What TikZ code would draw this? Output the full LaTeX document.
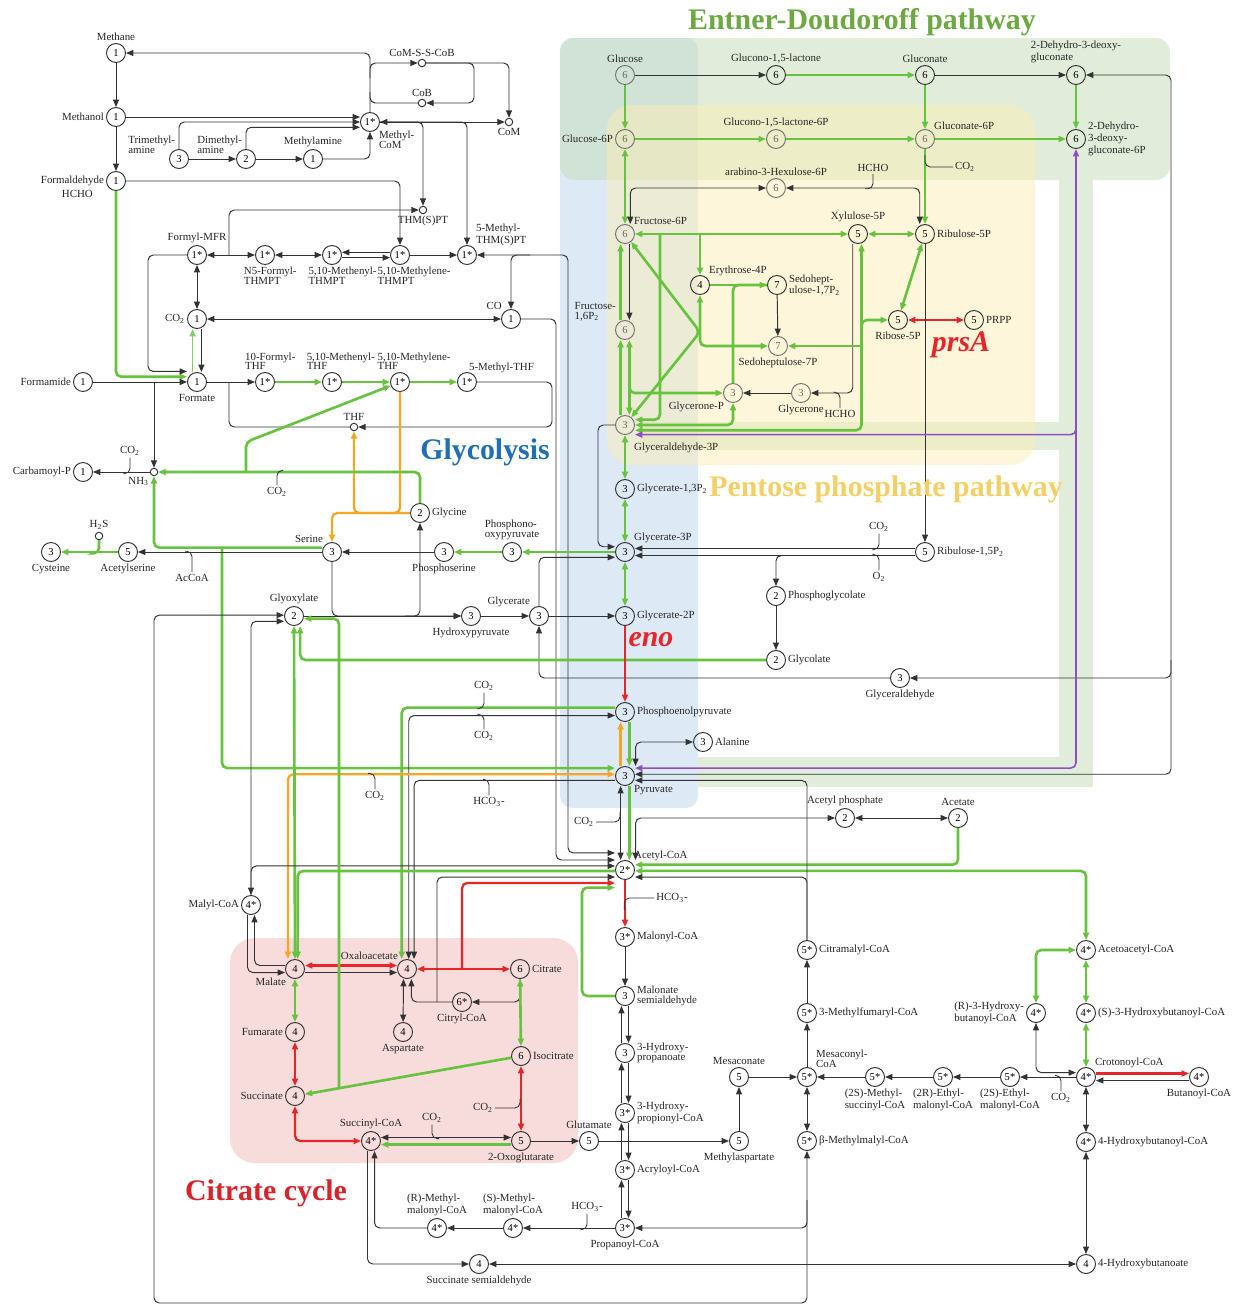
\documentclass[tikz,border=0pt]{standalone}
\usepackage{fontspec}
\setmainfont{Liberation Serif}
\usetikzlibrary{arrows.meta}

\definecolor{pgreen}{HTML}{66C23F}
\definecolor{pred}{HTML}{E8262A}
\definecolor{porange}{HTML}{F5A623}
\definecolor{ppurple}{HTML}{8E4EC6}
\definecolor{tgreen}{HTML}{6EA843}
\definecolor{tblue}{HTML}{1F6EB6}
\definecolor{tyellow}{HTML}{F3D067}
\definecolor{tred}{HTML}{D8232A}
\definecolor{bggreen}{HTML}{C8DFBC}
\definecolor{bgblue}{HTML}{BDD3EE}
\definecolor{bgyellow}{HTML}{FBEEB5}
\definecolor{bgpink}{HTML}{F3BDBD}

\newcommand\cotwo{CO\textsubscript{2}}

\begin{document}
\begin{tikzpicture}[x=0.02cm, y=-0.02cm,
    >={Triangle[length=4.2pt,width=3.4pt]},
    met/.style={circle, draw=black!80, line width=0.55pt, minimum size=0.38cm, inner sep=0pt, font=\fontsize{6}{6}\selectfont},
    dim/.style={draw=black!55, text=black!60, every label/.append style={text=black!60}},
    cof/.style={circle, draw=black!80, line width=0.55pt, fill=white, minimum size=0.15cm, inner sep=0pt},
    lbl/.style={font=\fontsize{6.2}{5.6}\selectfont, inner sep=1pt, text=black!85},
    ln/.style={draw=black!80, line width=0.55pt, rounded corners=3pt},
    gln/.style={draw=pgreen, line width=1.5pt, rounded corners=3pt},
    gthin/.style={draw=pgreen!80, line width=0.8pt},
    rln/.style={draw=pred, line width=1.3pt, rounded corners=3pt},
    oln/.style={draw=porange, line width=1.3pt, rounded corners=3pt},
    pln/.style={draw=ppurple, line width=0.9pt, rounded corners=3pt},
    hk/.style={draw=black!80, line width=0.5pt, rounded corners=3pt},
    ttl/.style={font=\fontsize{17}{17}\selectfont\bfseries}
]
\useasboundingbox (0,0) rectangle (1249,1309);

% pathway areas
\fill[bgblue, opacity=0.5, rounded corners=7pt] (560,38) rectangle (698,808);
\fill[bggreen, opacity=0.55, rounded corners=8pt] (560,38) rectangle (1170,180);
\fill[bggreen, opacity=0.55] (1059,180) rectangle (1093,787);
\fill[bggreen, opacity=0.55] (698,757) rectangle (1059,787);
\fill[bggreen, opacity=0.55] (640,422) rectangle (1059,450);
\fill[bgyellow, opacity=0.5, rounded corners=14pt] (607,105) rectangle (1035,465);
\fill[bgpink, opacity=0.55, rounded corners=14pt] (230,938) rectangle (578,1163);

% C1 metabolism
\node[met, label={[lbl]above:Methane}] (methane) at (116,53) {1};
\node[met, label={[lbl]left:Methanol}] (methanol) at (116,117) {1};
\node[met, label={[lbl]left:Formaldehyde}, label={[lbl,xshift=-8pt]below left:HCHO}] (hcho) at (116,181) {1};
\node[met, label={[lbl,align=left]below right:Methyl-\\CoM}] (mcom) at (370,122) {1*};
\node[met, label={[lbl,align=left,xshift=3pt,yshift=-2pt]above left:Trimethyl-\\amine}] (tma) at (179,159) {3};
\node[met, label={[lbl,align=left,xshift=3pt,yshift=-2pt]above left:Dimethyl-\\amine}] (dma) at (246,159) {2};
\node[met, label={[lbl]above:Methylamine}] (mamine) at (313,159) {1};
\node[cof, label={[lbl]above:CoM-S-S-CoB}] (comss) at (422,63) {};
\node[cof, label={[lbl]above:CoB}] (cob) at (422,103) {};
\node[cof, label={[lbl]below:CoM}] (com) at (509,122) {};
\node[cof, label={[lbl]below:THM(S)PT}] (thmspt) at (423,210) {};
\node[met, label={[lbl,align=left]above right:5-Methyl-\\THM(S)PT}] (mthmspt) at (467,255) {1*};
\node[met, label={[lbl]above:Formyl-MFR}] (fmfr) at (197,255) {1*};
\node[met, label={[lbl,align=left,xshift=3pt]below:N5-Formyl-\\THMPT}] (nfthmpt) at (265,255) {1*};
\node[met, label={[lbl,align=left,xshift=6pt]below:5,10-Methenyl-\\THMPT}] (menthmpt) at (332,255) {1*};
\node[met, label={[lbl,align=left,xshift=8pt]below:5,10-Methylene-\\THMPT}] (mlethmpt) at (400,255) {1*};
\node[met, label={[lbl]left:\cotwo}] (co2a) at (197,319) {1};
\node[met, label={[lbl]above left:CO}] (co) at (511,319) {1};
\node[met, label={[lbl]left:Formamide}] (formamide) at (83,382) {1};
\node[met, label={[lbl]below:Formate}] (formate) at (197,382) {1};
\node[met, label={[lbl,align=left,xshift=3pt]above:10-Formyl-\\THF}] (fthf) at (265,382) {1*};
\node[met, label={[lbl,align=left,xshift=5pt]above:5,10-Methenyl-\\THF}] (menthf) at (332,382) {1*};
\node[met, label={[lbl,align=left,xshift=8pt]above:5,10-Methylene-\\THF}] (mlethf) at (400,382) {1*};
\node[met, label={[lbl,xshift=-4pt]above right:5-Methyl-THF}] (mthf) at (467,382) {1*};
\node[cof, label={[lbl]above:THF}] (thf) at (354,427) {};
\node[cof, label={[lbl]below left:NH\textsubscript{3}}] (nh3) at (154,472) {};
\node[met, label={[lbl]left:Carbamoyl-P}] (carbp) at (83,472) {1};

% serine and glycine
\node[met, label={[lbl]right:Glycine}] (glycine) at (420,513) {2};
\node[met, label={[lbl]above left:Serine}] (serine) at (332,552) {3};
\node[met, label={[lbl]below:Acetylserine}] (acser) at (128,552) {5};
\node[met, label={[lbl]below:Cysteine}] (cys) at (51,552) {3};
\node[cof, label={[lbl]above:H\textsubscript{2}S}] (h2s) at (99,536) {};
\node[met, label={[lbl]below:Phosphoserine}] (pser) at (444,552) {3};
\node[met, label={[lbl,align=left]above:Phosphono-\\oxypyruvate}] (phpyr) at (512,552) {3};
\node[met, label={[lbl]above:Glyoxylate}] (glyox) at (294,616) {2};
\node[met, label={[lbl]below:Hydroxypyruvate}] (hpyr) at (471,616) {3};
\node[met, label={[lbl]above left:Glycerate}] (glycerate) at (539,616) {3};
\node[met, label={[lbl]right:Phosphoglycolate}] (pgcl) at (776,596) {2};
\node[met, label={[lbl]right:Glycolate}] (glycolate) at (776,660) {2};
\node[met, label={[lbl]below:Glyceraldehyde}] (glald) at (900,678) {3};

% glycolysis column
\node[met, dim, label={[lbl]above:Glucose}] (glc) at (625,75) {6};
\node[met, dim, label={[lbl]left:Glucose-6P}] (glc6p) at (625,139) {6};
\node[met, dim, label={[lbl]above right:Fructose-6P}] (f6p) at (625,234) {6};
\node[met, dim, label={[lbl,align=left]above left:Fructose-\\1,6P\textsubscript{2}}] (fbp) at (625,330) {6};
\node[met, dim, label={[lbl,yshift=-5pt]below right:Glyceraldehyde-3P}] (gap) at (625,425) {3};
\node[met, label={[lbl]right:Glycerate-1,3P\textsubscript{2}}] (bpg) at (625,489) {3};
\node[met, label={[lbl]above right:Glycerate-3P}] (pg3) at (625,552) {3};
\node[met, label={[lbl]right:Glycerate-2P}] (pg2) at (625,616) {3};
\node[met, label={[lbl]right:Phosphoenolpyruvate}] (pep) at (625,712) {3};
\node[met, label={[lbl]right:Alanine}] (ala) at (703,742) {3};
\node[met, label={[lbl]below right:Pyruvate}] (pyr) at (625,776) {3};
\node[met, label={[lbl]above right:Acetyl-CoA}] (accoa) at (625,870) {2*};
\node[met, label={[lbl]right:Malonyl-CoA}] (malcoa) at (625,937) {3*};
\node[met, label={[lbl,align=left]right:Malonate\\semialdehyde}] (msa) at (625,996) {3};
\node[met, label={[lbl,align=left]right:3-Hydroxy-\\propanoate}] (hp) at (625,1053) {3};
\node[met, label={[lbl,align=left]right:3-Hydroxy-\\propionyl-CoA}] (hpcoa) at (625,1113) {3*};
\node[met, label={[lbl]right:Acryloyl-CoA}] (acrcoa) at (625,1170) {3*};
\node[met, label={[lbl]below:Propanoyl-CoA}] (propcoa) at (625,1228) {3*};

% Entner-Doudoroff and pentose phosphate
\node[met, label={[lbl]above:Glucono-1,5-lactone}] (glcl) at (776,75) {6};
\node[met, label={[lbl]above:Gluconate}] (glcn) at (925,75) {6};
\node[met, label={[lbl,align=left]above:2-Dehydro-3-deoxy-\\gluconate}] (kdg) at (1076,75) {6};
\node[met, dim, label={[lbl]above:Glucono-1,5-lactone-6P}] (glcl6p) at (776,139) {6};
\node[met, dim, label={[lbl]above right:Gluconate-6P}] (glcn6p) at (925,139) {6};
\node[met, label={[lbl,align=left]right:2-Dehydro-\\3-deoxy-\\gluconate-6P}] (kdpg) at (1076,139) {6};
\node[met, dim, label={[lbl]above:arabino-3-Hexulose-6P}] (hex6p) at (776,188) {6};
\node[met, label={[lbl]above right:Erythrose-4P}] (e4p) at (700,285) {4};
\node[met, label={[lbl,align=left]right:Sedohept-\\ulose-1,7P\textsubscript{2}}] (s17bp) at (777,285) {7};
\node[met, label={[lbl]above:Xylulose-5P}] (x5p) at (858,234) {5};
\node[met, label={[lbl]right:Ribulose-5P}] (ru5p) at (925,234) {5};
\node[met, label={[lbl]below:Ribose-5P}] (r5p) at (898,320) {5};
\node[met, label={[lbl]right:PRPP}] (prpp) at (974,320) {5};
\node[met, dim, label={[lbl]below:Sedoheptulose-7P}] (s7p) at (778,346) {7};
\node[met, dim, label={[lbl]below left:Glycerone-P}] (dhap) at (733,393) {3};
\node[met, dim, label={[lbl]below:Glycerone}] (dha) at (801,393) {3};
\node[met, label={[lbl]right:Ribulose-1,5P\textsubscript{2}}] (rubp) at (925,552) {5};

% lower right
\node[met, label={[lbl]above:Acetyl phosphate}] (acp) at (845,818) {2};
\node[met, label={[lbl]above:Acetate}] (acetate) at (958,818) {2};
\node[met, label={[lbl]right:Acetoacetyl-CoA}] (aacoa) at (1086,950) {4*};
\node[met, label={[lbl,align=left]left:(R)-3-Hydroxy-\\butanoyl-CoA}] (rhbcoa) at (1036,1013) {4*};
\node[met, label={[lbl]right:(S)-3-Hydroxybutanoyl-CoA}] (shbcoa) at (1086,1013) {4*};
\node[met, label={[lbl]above right:Crotonoyl-CoA}] (crot) at (1086,1077) {4*};
\node[met, label={[lbl]below:Butanoyl-CoA}] (butcoa) at (1199,1077) {4*};
\node[met, label={[lbl]right:4-Hydroxybutanoyl-CoA}] (hbcoa) at (1086,1142) {4*};
\node[met, label={[lbl]right:4-Hydroxybutanoate}] (hbut) at (1086,1264) {4};
\node[met, label={[lbl,align=left]below:(2S)-Ethyl-\\malonyl-CoA}] (semcoa) at (1010,1077) {5*};
\node[met, label={[lbl,align=left]below:(2R)-Ethyl-\\malonyl-CoA}] (remcoa) at (943,1077) {5*};
\node[met, label={[lbl,align=left]below:(2S)-Methyl-\\succinyl-CoA}] (mscoa) at (875,1077) {5*};
\node[met, label={[lbl,align=left]above right:Mesaconyl-\\CoA}] (mescoa) at (807,1077) {5*};
\node[met, label={[lbl]right:3-Methylfumaryl-CoA}] (mfcoa) at (807,1013) {5*};
\node[met, label={[lbl]right:Citramalyl-CoA}] (cmcoa) at (807,950) {5*};
\node[met, label={[lbl]right:β-Methylmalyl-CoA}] (bmmcoa) at (807,1141) {5*};
\node[met, label={[lbl]above:Mesaconate}] (mesac) at (739,1077) {5};
\node[met, label={[lbl]below:Methylaspartate}] (measp) at (739,1141) {5};
\node[met, label={[lbl]above:Glutamate}] (glu) at (589,1141) {5};

% citrate cycle
\node[met, label={[lbl]left:Malyl-CoA}] (malylcoa) at (251,905) {4*};
\node[met, label={[lbl]below left:Malate}] (malate) at (295,969) {4};
\node[met, label={[lbl]above left:Oxaloacetate}] (oaa) at (407,969) {4};
\node[met, label={[lbl]right:Citrate}] (citrate) at (520,969) {6};
\node[met, label={[lbl]below:Citryl-CoA}] (citcoa) at (462,1002) {6*};
\node[met, label={[lbl]below:Aspartate}] (asp) at (403,1032) {4};
\node[met, label={[lbl]left:Fumarate}] (fum) at (295,1032) {4};
\node[met, label={[lbl]left:Succinate}] (succ) at (295,1096) {4};
\node[met, label={[lbl]above:Succinyl-CoA}] (succoa) at (371,1141) {4*};
\node[met, label={[lbl]right:Isocitrate}] (icit) at (521,1056) {6};
\node[met, label={[lbl]below:2-Oxoglutarate}] (akg) at (521,1141) {5};
\node[met, label={[lbl,align=left]above:(S)-Methyl-\\malonyl-CoA}] (smmcoa) at (513,1228) {4*};
\node[met, label={[lbl,align=left]above:(R)-Methyl-\\malonyl-CoA}] (rmmcoa) at (437,1228) {4*};
\node[met, label={[lbl]below:Succinate semialdehyde}] (ssa) at (479,1264) {4};

% side compounds
\node[lbl] (co2b) at (130,451) {\cotwo};
\node[lbl] (co2c) at (277,492) {\cotwo};
\node[lbl] (accoal) at (192,578) {AcCoA};
\node[lbl] (co2d) at (965,167) {\cotwo};
\node[lbl] (hchob) at (873,168) {HCHO};
\node[lbl] (hchoc) at (840,414) {HCHO};
\node[lbl] (co2e) at (879,527) {\cotwo};
\node[lbl] (o2) at (879,577) {O\textsubscript{2}};
\node[lbl] (co2g) at (484,686) {\cotwo};
\node[lbl] (co2h) at (484,736) {\cotwo};
\node[lbl] (hco3a) at (489,802) {HCO\textsubscript{3}-};
\node[lbl] (co2i) at (375,796) {\cotwo};
\node[lbl] (co2f) at (584,822) {\cotwo};
\node[lbl] (hco3c) at (672,898) {HCO\textsubscript{3}-};
\node[lbl] (co2j) at (483,1108) {\cotwo};
\node[lbl] (co2k) at (432,1118) {\cotwo};
\node[lbl] (hco3b) at (587,1207) {HCO\textsubscript{3}-};
\node[lbl] (co2l) at (1061,1098) {\cotwo};

% junctions
\coordinate (jcomss) at (370,78);
\coordinate (jcob) at (370,92);
\coordinate (jloop) at (474,80);
\coordinate (jthm) at (229,255);
\coordinate (jfm) at (148,300);
\coordinate (jfa) at (154,382);
\coordinate (jthf) at (229,382);
\coordinate (jmt) at (552,400);
\coordinate (jorg) at (370,513);
\coordinate (jgly1) at (246,472);
\coordinate (jgly2) at (246,442);
\coordinate (jser) at (222,548);
\coordinate (jhp) at (405,616);
\coordinate (jf6) at (700,234);
\coordinate (jf6b) at (660,234);
\coordinate (jtal) at (700,332);
\coordinate (jfbp) at (629.4,360);
\coordinate (jx1) at (861.5,335);
\coordinate (jx2) at (861.5,346);
\coordinate (jrub) at (800,555.5);
\coordinate (jgp) at (598,480);
\coordinate (jk1) at (1171,400);
\coordinate (jkdg) at (1171,660);
\coordinate (jpurp) at (1076,420);
\coordinate (jb1) at (807,1303);
\coordinate (jb2) at (154,1000);
\coordinate (jbm) at (807,1200);
\coordinate (jcit) at (462,969);
\coordinate (jccoa) at (437,1002);
\coordinate (jics) at (339,1088);
\coordinate (jms) at (582,950);
\coordinate (j568) at (568,600);
\coordinate (j556) at (556,600);
\coordinate (jco) at (530,255);

% C1 reactions
\draw[ln,->] (mcom) |- (methane);
\draw[ln,->] (jcomss) |- (comss);
\draw[ln] (jcob) |- (cob);
\draw[ln,->] (comss) -| (jloop) |- (cob);
\draw[ln,->] (comss) -| (com);
\draw[ln,->] (methane) -- (methanol);
\draw[ln,->] (methanol) -- (hcho);
\draw[ln,->] (methanol) -- (methanol -| mcom.west);
\draw[ln,->] (tma) |- (mcom.west);
\draw[ln,->] (tma) -- (dma);
\draw[ln,->] (dma) |- ([yshift=-3pt]mcom.west);
\draw[ln,->] (dma) -- (mamine);
\draw[ln,->] (mamine) -| (mcom);
\draw[ln,->] (mcom) -- (com);
\draw[ln,->] (mcom) -| (thmspt);
\draw[ln,<->] (mthmspt) |- (mcom);
\draw[ln,->] (hcho) -| (mlethmpt);
\draw[gln,->] (hcho) |- ([yshift=3pt]formate.west);
\draw[ln,<->] (fmfr) -- (nfthmpt);
\draw[ln,<->] (nfthmpt) -- (menthmpt);
\draw[ln,<-] ([yshift=1.5pt]menthmpt.east) -- ([yshift=1.5pt]mlethmpt.west);
\draw[ln,->] ([yshift=-1.5pt]menthmpt.east) -- ([yshift=-1.5pt]mlethmpt.west);
\draw[ln,->] (mlethmpt) -- (mthmspt);
\draw[ln,->] (jthm) |- (thmspt);
\draw[ln,<->] (fmfr) -- (co2a);
\draw[ln,<->] (co2a) -- (co);
\draw[ln,->] (fmfr) -| (jfm) |- ([yshift=6pt]formate.west);
\draw[gthin,->] ([xshift=-2.5pt]formate.north) -- ([xshift=-2.5pt]co2a.south);
\draw[ln,->] ([xshift=2.5pt]co2a.south) -- ([xshift=2.5pt]formate.north);
\draw[ln,->] (formamide) -- (formate);
\draw[ln,->] (jfa) -- (nh3);
\draw[ln,->] (formate) -- (fthf);
\draw[ln] (thf) -| (jthf);
\draw[gln,->] (fthf) -- (menthf);
\draw[gln,->] (menthf) -- (mlethf);
\draw[gln,->] (mlethf) -- (mthf);
\draw[ln,->] (mthf) -| (jmt) |- (thf);
\draw[ln,->] (nh3) -- (carbp);
\draw[hk] (co2b.south) |- ++(-5,16);
\draw[ln,<->] (mthmspt) -| (j568) |- ([yshift=9.7pt]accoa.west);
\draw[ln,->] (jco) -| (co);
\draw[ln,->] (co) -| (j556) |- ([yshift=5.7pt]accoa.west);

% serine, glycine, glycerate
\draw[oln,->] (glycine) -| (serine);
\draw[oln] (mlethf) |- (jorg);
\draw[oln,->] (jorg) -| (thf);
\draw[gln,->] (glycine) |- (nh3);
\draw[gln,->] (jgly1) -- (jgly2) -- (mlethf);
\draw[hk] (co2c.north) |- ++(6,-15);
\draw[gln,->] ([yshift=2.5pt]serine.west) -| (nh3);
\draw[gln,->] (jser) |- ([yshift=4.5pt]pyr.west);
\draw[ln,->] (serine) -- (acser);
\draw[hk] (accoal.north) |- ++(-7,-21);
\draw[gln,->] (acser) -- (cys);
\draw[gln] (h2s.south) |- ++(-5,13);
\draw[ln,->] (pser) -- (serine);
\draw[gln,->] (phpyr) -- (pser);
\draw[gln,->] (pg3) -- (phpyr);
\draw[ln,->] (serine) |- (hpyr);
\draw[ln,->] (glyox) -- (hpyr);
\draw[ln,->] (jhp) -| (glycine);
\draw[ln,->] (hpyr) -- (glycerate);
\draw[ln,->] (glycerate) -- (pg2);
\draw[ln,->] (glycerate) |- ([yshift=-3pt]pg3.west);
\draw[ln,->] (glald) -| (glycerate);

% Entner-Doudoroff, pentose phosphate, glycolysis
\draw[ln,->] (glc) -- (glcl);
\draw[gln,->] (glcl) -- (glcn);
\draw[ln,->] (glcn) -- (kdg);
\draw[gln,->] (kdg) -- (kdpg);
\draw[gln,->] (glcn) -- (glcn6p);
\draw[gln,->] (glc) -- (glc6p);
\draw[gln,->] (glc6p) -- (glcl6p);
\draw[gln,->] (glcl6p) -- (glcn6p);
\draw[gln,->] (glcn6p) -- (kdpg);
\draw[gln,->] (glcn6p) -- (ru5p);
\draw[hk] (co2d.west) -| ++(-28,-12);
\draw[gln,<->] (glc6p) -- (f6p);
\draw[ln,<->] ([xshift=3pt]f6p.north) |- (hex6p);
\draw[ln,<->] (hex6p) -| ([xshift=-3pt]ru5p.north);
\draw[hk] (hchob.south) |- ++(-8,15);
\draw[gln,<->] (f6p) -- (x5p);
\draw[gln,->] (jf6) -- (e4p);
\draw[gln,->] (jf6b) |- ([yshift=3pt]gap.east);
\draw[gln,<->] (x5p) -- (ru5p);
\draw[gln,<->] (ru5p) -- (r5p);
\draw[rln,<->] (r5p) -- (prpp);
\draw[gln,->] (e4p) -- (s17bp);
\draw[ln,->] (s17bp) -- (s7p);
\draw[gln,<->] (e4p) |- (s7p);
\draw[gln,<->] (f6p) -- (jtal) -- (gap);
\draw[gln] (dhap) |- (s17bp);
\draw[gln,<->] (gap) -| (dhap);
\draw[gln,->] (jfbp) |- (dhap);
\draw[gln,->] ([xshift=-2.5pt]gap.north) -- ([xshift=-2.5pt]fbp.south);
\draw[gln,->] ([xshift=-2.5pt]fbp.north) -- ([xshift=-2.5pt]f6p.south);
\draw[gln,<->] ([xshift=2.5pt]fbp.south) -- ([xshift=2.5pt]gap.north);
\draw[ln,->] ([xshift=2.5pt]f6p.south) -- ([xshift=2.5pt]fbp.north);
\draw[ln,->] (dha) -- (dhap);
\draw[ln,->] ([xshift=-3pt]x5p.south) |- (dha);
\draw[hk] (hchoc.north) |- ++(-5,-16);
\draw[gln,<->] ([xshift=2pt]x5p.south) |- ([yshift=-3pt]gap.east);
\draw[gln,->] (jx1) |- (r5p);
\draw[gln,->] (jx2) -- (s7p);
\draw[ln,->] (ru5p) -- (rubp);
\draw[ln,->] ([yshift=2pt]rubp.west) -- ([yshift=2pt]pg3.east);
\draw[ln,->] ([yshift=-2pt]rubp.west) -- ([yshift=-2pt]pg3.east);
\draw[hk] (co2e.south) |- ++(-5,16);
\draw[hk] (o2.north) |- ++(-5,-16);
\draw[ln,->] (jrub) -| (pgcl);
\draw[ln,->] (pgcl) -- (glycolate);
\draw[gln,->] (glycolate) -| ([xshift=3.5pt]glyox.south);
\draw[ln,->] (gap) -| (jgp) |- ([yshift=3pt]pg3.west);
\draw[gln,<->] (gap) -- (bpg);
\draw[gln,<->] (bpg) -- (pg3);
\draw[gln,<->] (pg3) -- (pg2);
\draw[rln,->] (pg2) -- (pep);
\draw[gln,->] ([xshift=2.5pt]pep.south) -- ([xshift=2.5pt]pyr.north);
\draw[oln,->] ([xshift=-2.5pt]pyr.north) -- ([xshift=-2.5pt]pep.south);
\draw[ln,<->] ([xshift=6pt]pyr.north) |- (ala);
\draw[gln,->] ([xshift=2.5pt]pyr.south) -- ([xshift=2.5pt]accoa.north);
\draw[ln,<->] ([xshift=-2.5pt]pyr.south) -- ([xshift=-2.5pt]accoa.north);
\draw[hk] (co2f.east) -| ++(24,-10);
\draw[ln,<->] ([xshift=6pt]accoa.north) |- (acp);
\draw[ln,<->] (acp) -- (acetate);
\draw[gln,->] (acetate) |- ([yshift=3pt]accoa.east);
\draw[gln,<->] ([yshift=-0.5pt]accoa.east) -| (aacoa);
\draw[ln,->] (cmcoa) |- ([yshift=-2.5pt]pyr.east);
\draw[ln,->] (cmcoa) |- ([yshift=-4pt]accoa.east);
\draw[ln,->] (mfcoa) -- (cmcoa);
\draw[ln,->] (mescoa) -- (mfcoa);
\draw[ln,<->] (mescoa) -- (bmmcoa);
\draw[ln,<->] (bmmcoa) -- (jb1) -| (jb2) |- ([yshift=0.5pt]glyox.west);
\draw[ln,->] (jbm) |- (propcoa);
\draw[ln,<->] (kdg) -| (jk1) |- ([yshift=1pt]pyr.east);
\draw[ln,->] (jkdg) |- (glald);
\draw[pln,<->] (kdpg) |- ([yshift=4.5pt]pyr.east);
\draw[pln,->] (jpurp) |- ([yshift=-5.5pt]gap.east);

% anaplerotic and citrate cycle
\draw[gln,->] ([yshift=2.5pt]pep.west) -| ([xshift=-3pt]oaa.north);
\draw[hk] (co2g.south) |- ++(-5,16);
\draw[ln,<->] ([xshift=1pt]oaa.north) |- ([yshift=-2pt]pep.west);
\draw[hk] (co2h.north) |- ++(-5,-15);
\draw[ln,->] ([yshift=-2.5pt]pyr.west) -| ([xshift=4pt]oaa.north);
\draw[hk] (hco3a.north) |- ++(-6,-16);
\draw[oln,<->] ([yshift=1pt]pyr.west) -| ([xshift=-4pt]malate.north);
\draw[hk] (co2i.north) |- ++(-7,-16);
\draw[gln,<->] (glyox) -- (malate);
\draw[gln,->] ([yshift=-0.6pt]accoa.west) -| ([xshift=1.5pt]malate.north);
\draw[ln,<->] ([yshift=2.3pt]accoa.west) -| (malylcoa);
\draw[ln,->] (malylcoa) |- ([yshift=-3pt]glyox.west);
\draw[ln,->] ([xshift=-2pt]malylcoa.south) |- ([yshift=-2pt]malate.west);
\draw[ln,->] ([yshift=2pt]malate.west) -| ([xshift=2pt]malylcoa.south);
\draw[rln,<->] ([yshift=2pt]malate.east) -- ([yshift=2pt]oaa.west);
\draw[ln,->] ([yshift=-2pt]malate.east) -- ([yshift=-2pt]oaa.west);
\draw[rln,<->] (oaa) -- (citrate);
\draw[rln,->] (jcit) |- ([yshift=-7.4pt]accoa.west);
\draw[ln,->] (citrate) |- (citcoa);
\draw[ln,->] (citcoa) -| ([xshift=2.5pt]oaa.south);
\draw[ln,->] (jccoa) |- ([yshift=-4pt]accoa.west);
\draw[ln,<->] ([xshift=-2pt]oaa.south) -- (asp);
\draw[gln,<->] (malate) -- (fum);
\draw[rln,<->] (fum) -- (succ);
\draw[rln,<->] (succ) |- (succoa);
\draw[gln,->] (icit) -- (succ);
\draw[gln,->] (jics) |- ([yshift=-1.5pt]glyox.east);
\draw[gln,<->] (citrate) -- (icit);
\draw[rln,<->] (icit) -- (akg);
\draw[hk] (co2j.east) -| ++(25,-9);
\draw[ln,<->] ([yshift=2pt]akg.west) -- ([yshift=2pt]succoa.east);
\draw[gln,->] ([yshift=-2pt]akg.west) -- ([yshift=-2pt]succoa.east);
\draw[hk] (co2k.south) |- ++(7,14);
\draw[ln,->] (akg) -- (glu);
\draw[ln,->] (glu) -- (measp);
\draw[ln,->] (measp) -- (mesac);
\draw[ln,->] (mesac) -- (mescoa);

% ethylmalonyl-CoA and 4-hydroxybutyrate routes
\draw[ln,->] (crot) -- (semcoa);
\draw[hk] (co2l.north) |- ++(-6,-16);
\draw[ln,->] (semcoa) -- (remcoa);
\draw[ln,->] (remcoa) -- (mscoa);
\draw[ln,->] (mscoa) -- (mescoa);
\draw[gln,<->] (aacoa) -- (shbcoa);
\draw[gln,<->] (shbcoa) -- (crot);
\draw[gln,<->] (rhbcoa) |- (aacoa);
\draw[ln,<->] (rhbcoa) |- ([yshift=2.5pt]crot.west);
\draw[rln,->] ([yshift=2pt]crot.east) -- ([yshift=2pt]butcoa.west);
\draw[ln,->] ([yshift=-2pt]butcoa.west) -- ([yshift=-2pt]crot.east);
\draw[ln,<->] (crot) -- (hbcoa);
\draw[ln,<->] (hbcoa) -- (hbut);
\draw[ln,<->] (hbut) -- (ssa);
\draw[ln,->] ([xshift=-2pt]succoa.south) |- (ssa);
\draw[ln,->] (rmmcoa) -| ([xshift=2pt]succoa.south);
\draw[ln,->] (smmcoa) -- (rmmcoa);
\draw[ln,->] (propcoa) -- (smmcoa);
\draw[hk] (hco3b.south) |- ++(-5,16);

% 3-hydroxypropionate route
\draw[rln,->] (accoa) -- (malcoa);
\draw[hk] (hco3c.west) -| ++(-30,12);
\draw[ln,->] (malcoa) -- (msa);
\draw[gln,->] (msa) -| (jms) |- ([yshift=-10pt]accoa.west);
\draw[ln,->] ([xshift=-2pt]hp.north) -- ([xshift=-2pt]msa.south);
\draw[ln,->] ([xshift=2pt]msa.south) -- ([xshift=2pt]hp.north);
\draw[ln,->] ([xshift=-2pt]hpcoa.north) -- ([xshift=-2pt]hp.south);
\draw[ln,->] ([xshift=2pt]hp.south) -- ([xshift=2pt]hpcoa.north);
\draw[ln,->] ([xshift=-2pt]acrcoa.north) -- ([xshift=-2pt]hpcoa.south);
\draw[ln,->] ([xshift=2pt]hpcoa.south) -- ([xshift=2pt]acrcoa.north);
\draw[ln,->] ([xshift=-2pt]propcoa.north) -- ([xshift=-2pt]acrcoa.south);
\draw[ln,->] ([xshift=2pt]acrcoa.south) -- ([xshift=2pt]propcoa.north);

\node[ttl, text=tgreen] (edtitle) at (862,22) {Entner-Doudoroff pathway};
\node[ttl, text=tblue] (glytitle) at (485,452) {Glycolysis};
\node[ttl, text=tyellow] (pptitle) at (886,489) {Pentose phosphate pathway};
\node[ttl, text=tred] (cctitle) at (266,1193) {Citrate cycle};
\node[ttl, text=pred, font=\fontsize{17}{17}\selectfont\bfseries\itshape] (prsa) at (961,345) {prsA};
\node[ttl, text=pred, font=\fontsize{17}{17}\selectfont\bfseries\itshape] (eno) at (651,640) {eno};
\end{tikzpicture}
\end{document}
